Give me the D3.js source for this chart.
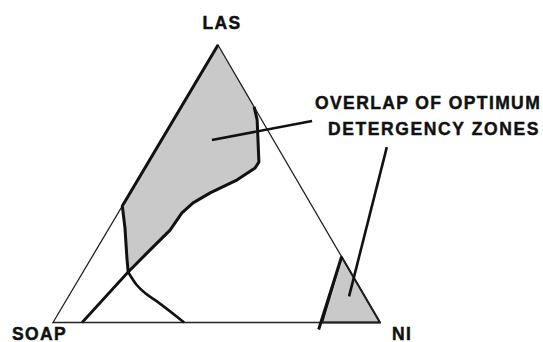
<!DOCTYPE html>
<html>
<head>
<meta charset="utf-8">
<script src="https://cdn.jsdelivr.net/npm/d3@7"></script>
<style>
  body { margin: 0; background: #fff; }
  text { font-family: "Liberation Sans", Arial, sans-serif; font-weight: bold; fill: #111; stroke: #111; stroke-width: 0.45; }
</style>
</head>
<body>
<svg id="chart"></svg>
<script>
// corners of the ternary diagram and the callout text
const cornerLabels = ["LAS", "SOAP", "NI"];
const calloutLines = ["OVERLAP OF OPTIMUM", "DETERGENCY ZONES"];

// compositions are [LAS %, NI %]; SOAP is the remainder
const corners = [[100, 0], [0, 0], [0, 100]];
const upperZone = [
  [100, 0], [77.7, 22.3], [73.0, 25.6], [57.8, 33.8], [55.7, 33.7],
  [51.4, 30.4], [46.7, 24.5], [43.1, 21.1], [39.5, 19.5], [33.3, 19.0],
  [25.0, 16.1], [18.2, 13.8], [23.2, 10.9], [34.1, 4.8], [42.0, 0]
];
const lowerZone = [[23.7, 76.3], [0, 82.3], [0, 100]];
const lowerZoneEdge = [[23.7, 76.3], [-2.5, 82.5]];
const soapFoot = [[18.2, 13.8], [0, 8.9]];
const niFoot = [[18.2, 13.8], [13.5, 18.8], [10.6, 22.8], [7.7, 27.8], [0, 40.1]];
const leaders = [
  [[65.8, 15.4], [72.6, 42.6]],
  [[9.4, 85.8], [63.2, 70.2]]
];

const w = 543;
const h = 342;
const x = d3.scaleLinear().domain([0, 100]).range([53, 380]);
const y = d3.scaleLinear().domain([0, 100]).range([322.5, 45]);
const apexShift = (218 - 53) / (380 - 53);

const px = d => x(d[1] + d[0] * apexShift);
const py = d => y(d[0]);

const line = d3.line().x(px).y(py);
const smooth = d3.line().x(px).y(py).curve(d3.curveCatmullRom);

const svg = d3.select("#chart")
  .attr("width", w)
  .attr("height", h);

// shaded zones
svg.append("path")
  .datum(upperZone)
  .attr("fill", "#c9c9c9")
  .attr("stroke", "none")
  .attr("d", d => line(d) + "Z");

svg.append("path")
  .datum(lowerZone)
  .attr("fill", "#c9c9c9")
  .attr("stroke", "#111")
  .attr("stroke-width", 2)
  .attr("stroke-linejoin", "round")
  .attr("d", d => line(d) + "Z");

// triangle outline
svg.append("path")
  .datum(corners)
  .attr("fill", "none")
  .attr("stroke", "#222")
  .attr("stroke-width", 1.3)
  .attr("d", d => line(d) + "Z");

// bold zone boundaries
svg.append("path")
  .datum(upperZone.slice(1).concat([upperZone[0]]))
  .attr("fill", "none")
  .attr("stroke", "#111")
  .attr("stroke-width", 3)
  .attr("stroke-linejoin", "round")
  .attr("d", line);

svg.append("path")
  .datum(lowerZoneEdge)
  .attr("fill", "none")
  .attr("stroke", "#111")
  .attr("stroke-width", 3)
  .attr("d", line);

svg.append("path")
  .datum(soapFoot)
  .attr("fill", "none")
  .attr("stroke", "#111")
  .attr("stroke-width", 2.8)
  .attr("d", line);

svg.append("path")
  .datum(niFoot)
  .attr("fill", "none")
  .attr("stroke", "#111")
  .attr("stroke-width", 2.6)
  .attr("d", smooth);

// leader lines
svg.selectAll(".leader")
  .data(leaders)
  .join("path")
  .attr("class", "leader")
  .attr("fill", "none")
  .attr("stroke", "#111")
  .attr("stroke-width", 2.6)
  .attr("d", line);

// corner labels
const labelPos = [
  { x: 222, y: 28.5, anchor: "middle" },
  { x: 12, y: 339.5, anchor: "start" },
  { x: 392, y: 339.5, anchor: "start" }
];
svg.selectAll(".corner")
  .data(cornerLabels)
  .join("text")
  .attr("class", "corner")
  .attr("x", (d, i) => labelPos[i].x)
  .attr("y", (d, i) => labelPos[i].y)
  .attr("text-anchor", (d, i) => labelPos[i].anchor)
  .attr("font-size", 17.5)
  .attr("letter-spacing", 1.4)
  .text(d => d);

// callout
const calloutPos = [[315, 109], [328, 134.5]];
svg.selectAll(".callout")
  .data(calloutLines)
  .join("text")
  .attr("class", "callout")
  .attr("x", (d, i) => calloutPos[i][0])
  .attr("y", (d, i) => calloutPos[i][1])
  .attr("font-size", 17.5)
  .attr("letter-spacing", (d, i) => i === 0 ? 1.4 : 1.6)
  .text(d => d);
</script>
</body>
</html>
